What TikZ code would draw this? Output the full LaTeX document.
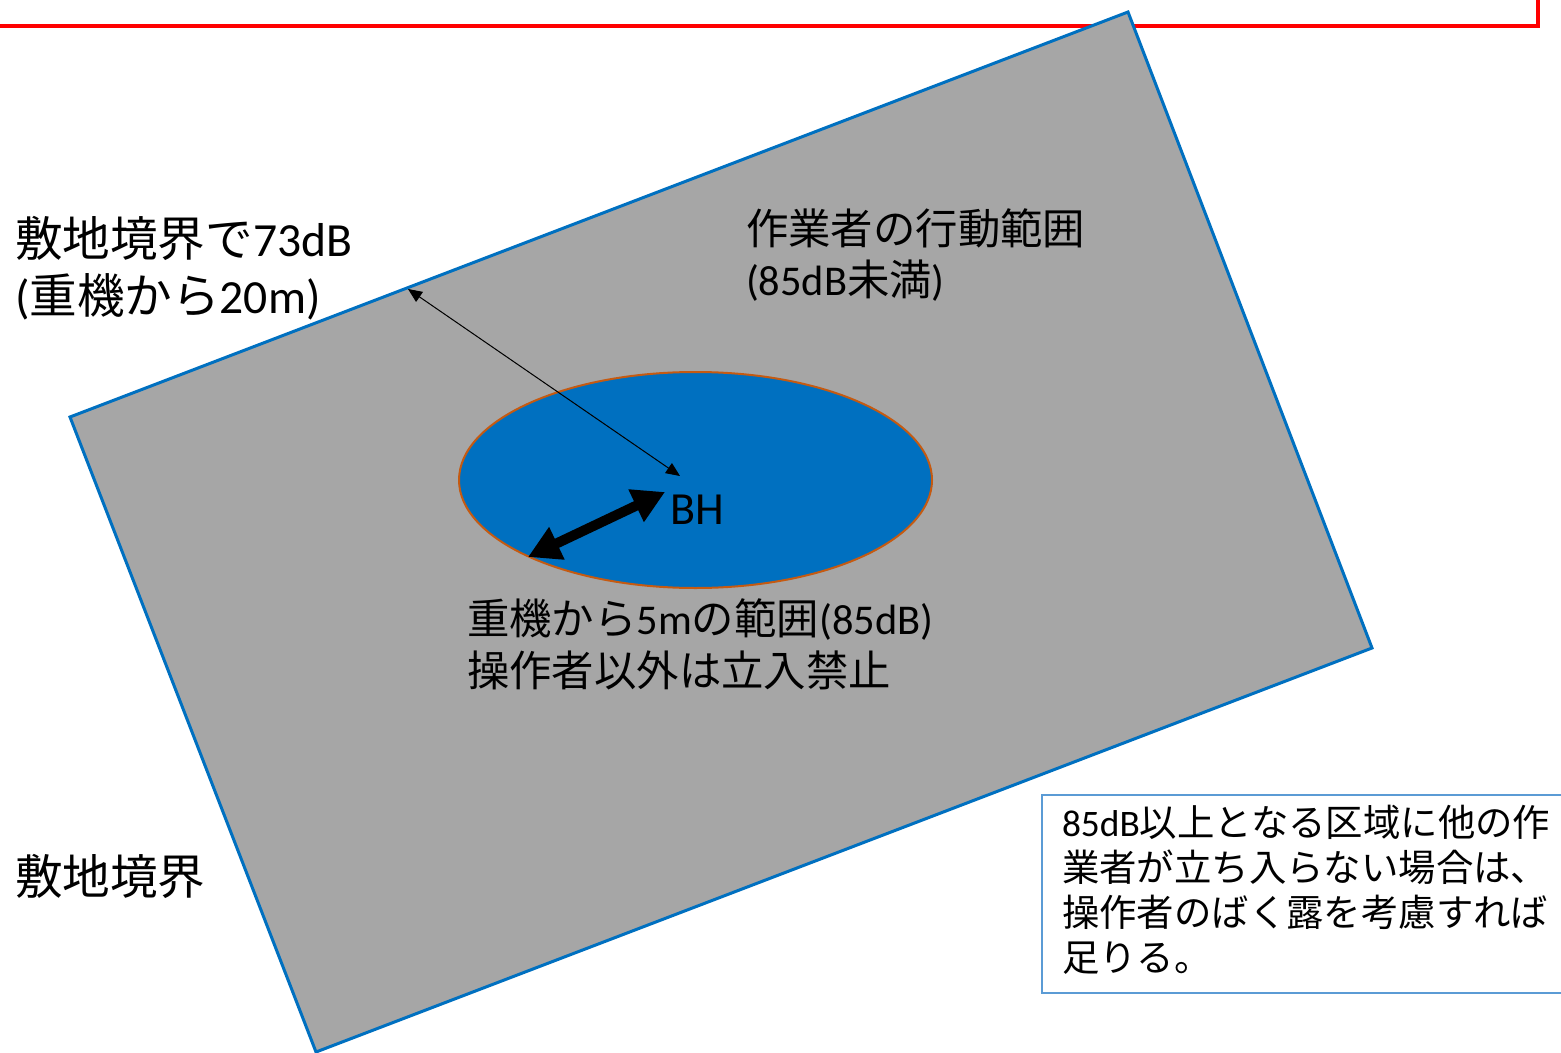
\documentclass[tikz,border=0pt]{standalone}
\usepackage{fontspec}
\setmainfont{Carlito}
\newfontfamily\jfont{Noto Sans CJK JP}
\newcommand{\J}[1]{{\jfont #1}}
\usetikzlibrary{arrows.meta,shapes.geometric}
\definecolor{zonegray}{HTML}{A6A6A6}
\definecolor{zoneblue}{HTML}{0070C0}
\definecolor{rimorange}{HTML}{C55A11}
\definecolor{boxblue}{HTML}{5B9BD5}
\tikzset{
  lbl/.style={inner sep=0pt, outer sep=0pt, align=left, anchor=base west, text=black},
  big/.style={font=\fontsize{23.8}{28.5}\selectfont},
  mid/.style={font=\fontsize{21.2}{25.8}\selectfont},
  small/.style={font=\fontsize{18.7}{22.5}\selectfont},
  thinarrow/.style={line width=0.5pt, {Triangle[length=7pt,width=6pt]}-{Triangle[length=7pt,width=6pt]}},
  thickarrow/.style={line width=5pt, {Triangle[length=16pt,width=17pt]}-{Triangle[length=16pt,width=17pt]}},
}
\begin{document}
\begin{tikzpicture}[x=0.5pt,y=-0.5pt]
\useasboundingbox (0,0) rectangle (1561,1053);
\fill[white] (0,0) rectangle (1561,1053);
% red frame
\draw[red, line width=2pt] (-20,-20) rectangle (1538,26);
% site area
\draw[zoneblue, fill=zonegray, line width=1.5pt, line join=miter]
  (70,417) -- (1128,12) -- (1372,648) -- (316,1052) -- cycle;
% 85 dB zone
\node[ellipse, draw=rimorange, fill=zoneblue, line width=1pt,
      minimum width=236.5pt, minimum height=108pt, inner sep=0pt] (zone) at (695.5,480) {};
% coordinates
\coordinate (edge) at (408,289);
\coordinate (bhtip) at (680,476);
\coordinate (rimpt) at (528,557);
\coordinate (bhpt) at (665,492);
\draw[thinarrow] (edge) -- (bhtip);
\draw[thickarrow] (rimpt) -- (bhpt);
\node[lbl, font=\fontsize{23}{28}\selectfont] (bh) at (670,524) {BH};
% labels (anchored at the baseline of the last line)
\node[lbl, big] (t1) at (15,314) {\J{敷地境界で}73dB\\(\J{重機から}20m)};
\node[lbl, mid] (t2) at (746,296) {\J{作業者の行動範囲}\\(85dB\J{未満})};
\node[lbl, mid] (t3) at (467,686) {\J{重機から}5m\J{の範囲}(85dB)\\\J{操作者以外は立入禁止}};
\node[lbl, big] (t4) at (15,894) {\J{敷地境界}};
% note box
\draw[boxblue, line width=0.8pt, fill=white] (1042,795) rectangle (1580,993);
\node[lbl, small] (note) at (1062,971) {85dB\J{以上となる区域に他の作}\\\J{業者が立ち入らない場合は、}\\\J{操作者のばく露を考慮すれば}\\\J{足りる。}};
\end{tikzpicture}
\end{document}
